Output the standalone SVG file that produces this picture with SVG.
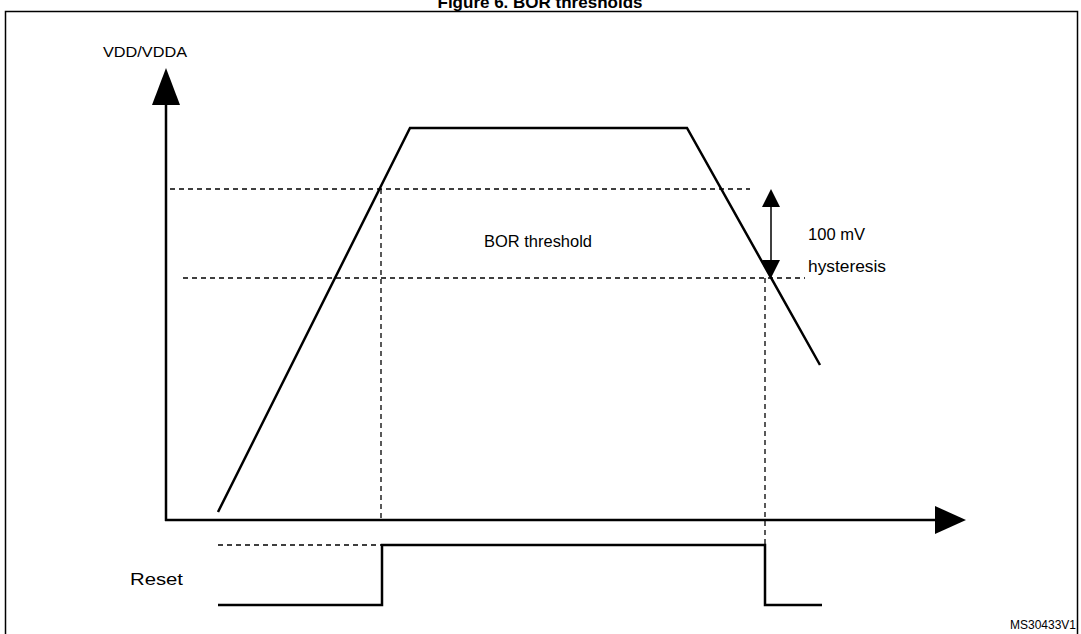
<svg xmlns="http://www.w3.org/2000/svg" width="1081" height="634" viewBox="0 0 1081 634">
<style>
text{font-family:"Liberation Sans",Arial,sans-serif;fill:#000}
.s{fill:none;stroke:#000;stroke-width:2.5}
.d{fill:none;stroke:#000;stroke-width:1.3;stroke-dasharray:5,4}
</style>
<rect width="1081" height="634" fill="#fff"/>
<text x="540" y="8" font-size="17" font-weight="bold" text-anchor="middle">Figure 6. BOR thresholds</text>
<rect x="5.5" y="11.5" width="1072" height="640" fill="none" stroke="#000" stroke-width="1.5"/>
<g id="axes">
<line class="s" x1="166" y1="521" x2="166" y2="104"/>
<polygon points="166,68 152,105 180,105"/>
<line class="s" x1="165" y1="520" x2="936" y2="520"/>
<polygon points="966,520 935,506 935,534"/>
</g>
<g id="guides">
<line class="d" x1="170" y1="189" x2="750" y2="189"/>
<line class="d" x1="183" y1="278" x2="805" y2="278"/>
<line class="d" x1="381" y1="189" x2="381" y2="520"/>
<line class="d" x1="765" y1="278" x2="765" y2="605"/>
<line class="d" x1="218" y1="545" x2="381" y2="545"/>
</g>
<g id="curve">
<polyline class="s" points="218,512 410,128 687,128 820,365"/>
</g>
<g id="hysteresis">
<line x1="771" y1="200" x2="771" y2="268" stroke="#000" stroke-width="1.5"/>
<polygon points="771,189 762,207 780,207"/>
<polygon points="771,278 762,260 780,260"/>
</g>
<g id="reset">
<polyline class="s" points="218,605 382,605 382,545 765,545 765,605 822,605"/>
</g>
<g id="labels">
<text x="103" y="57" font-size="15" textLength="84" lengthAdjust="spacingAndGlyphs">VDD/VDDA</text>
<text x="484" y="247" font-size="16" textLength="108" lengthAdjust="spacingAndGlyphs">BOR threshold</text>
<text x="808" y="240" font-size="16" textLength="57" lengthAdjust="spacingAndGlyphs">100 mV</text>
<text x="808" y="272" font-size="16" textLength="78" lengthAdjust="spacingAndGlyphs">hysteresis</text>
<text x="130" y="585" font-size="17" textLength="53" lengthAdjust="spacingAndGlyphs">Reset</text>
<text x="1076" y="629" font-size="12" text-anchor="end">MS30433V1</text>
</g>
</svg>
